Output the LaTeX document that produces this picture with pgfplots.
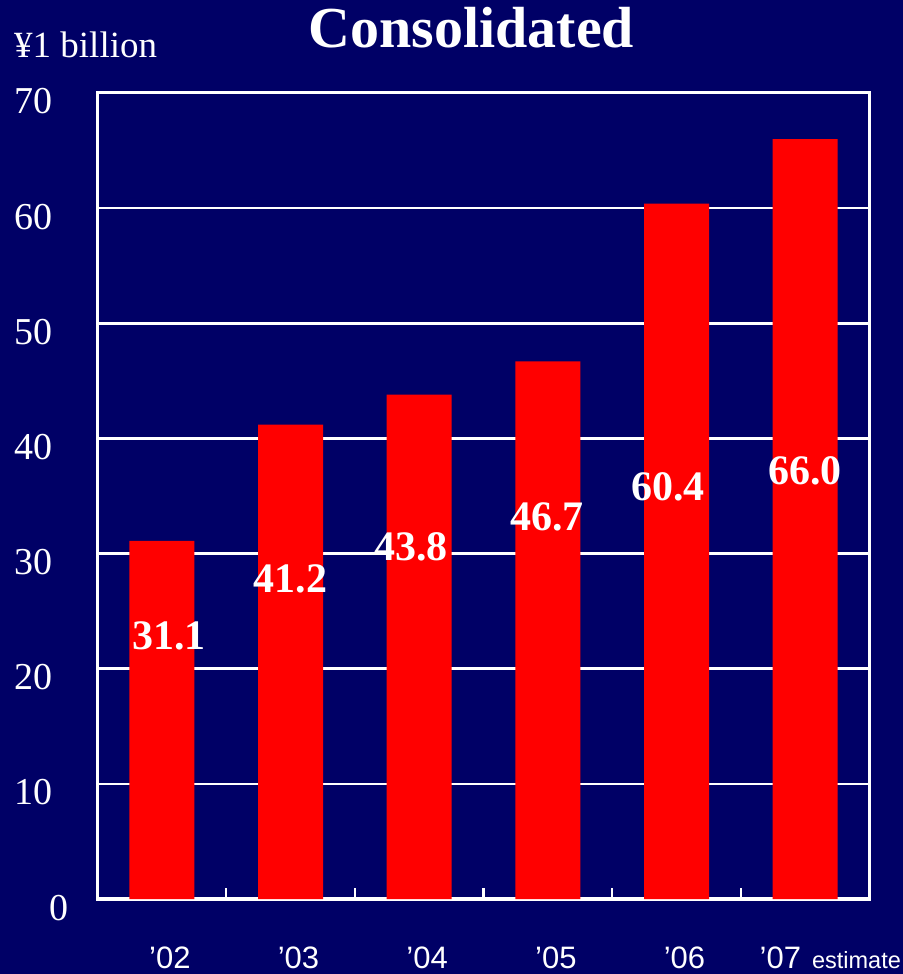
\documentclass[border=0pt]{standalone}
\usepackage{fontspec}
\setmainfont{Liberation Serif}
\newfontfamily\sansf{Liberation Sans}
\usepackage{pgfplots}
\usepackage{pgfplotstable}
\pgfplotsset{compat=1.18}

\definecolor{navy}{RGB}{0,0,102}
\definecolor{barred}{RGB}{255,0,0}

% x: category position, val: value (¥1 billion), lx/ly: where the value label sits
\pgfplotstableread{
x  val   lx      ly
0  31.1  0.054   21.63
1  41.2  1.000   26.66
2  43.8  1.938   29.36
3  46.7  2.992   31.96
4  60.4  3.934   34.65
5  66.0  5.000   36.04
}\profit

\begin{document}
\begin{tikzpicture}
\fill[navy] (0,0) rectangle (903bp,974bp);
\useasboundingbox (0,0) rectangle (903bp,974bp);

\begin{axis}[
  at={(97.5bp,75bp)}, anchor=south west,
  width=772bp, height=806bp, scale only axis,
  xmin=-0.5, xmax=5.5, ymin=0, ymax=70,
  xtick={0,1,2,3,4,5},
  xticklabels={’02,’03,’04,’05,’06,{\rlap{\kern-53.5bp’07\kern11bp{\fontsize{23.5bp}{24bp}\selectfont estimate}}}},
  minor xtick={0.5,1.5,2.5,3.5,4.5},
  ytick={0,10,...,70},
  yticklabels={0\kern-16bp,10,20,30,40,50,60,70},
  major tick length=0pt,
  minor tick length=11bp,
  tick align=inside,
  xtick pos=left, ytick pos=left,
  axis line style={white, line width=3bp},
  every tick/.style={white, line width=2.5bp},
  minor tick style={white, line width=2.5bp},
  ymajorgrids,
  major grid style={white, line width=2.5bp},
  xticklabel style={font=\sansf\fontsize{31bp}{32bp}\selectfont, text=white,
    anchor=base, inner sep=0pt, xshift=8bp, yshift=-69bp},
  yticklabel style={font=\fontsize{38bp}{40bp}\selectfont, text=white,
    anchor=base east, inner sep=0pt, xshift=-45bp, yshift=-21bp},
  clip=false,
]
\addplot[ybar, bar width=65bp, fill=barred, draw=none] table[x=x, y=val] {\profit};
\addplot[draw=none, mark=none,
  nodes near coords, point meta=explicit symbolic,
  every node near coord/.append style={anchor=base, inner sep=0pt, text=white,
    font=\fontsize{42bp}{44bp}\selectfont\bfseries}]
  table[x=lx, y=ly, meta=val] {\profit};
\end{axis}

\node[anchor=base, inner sep=0pt, text=white,
  font=\fontsize{58bp}{60bp}\selectfont\bfseries] at (471.5bp,926bp) {Consolidated};
\node[anchor=base west, inner sep=0pt, text=white,
  font=\fontsize{37bp}{39bp}\selectfont] at (14bp,916bp) {¥1 billion};
\end{tikzpicture}
\end{document}
